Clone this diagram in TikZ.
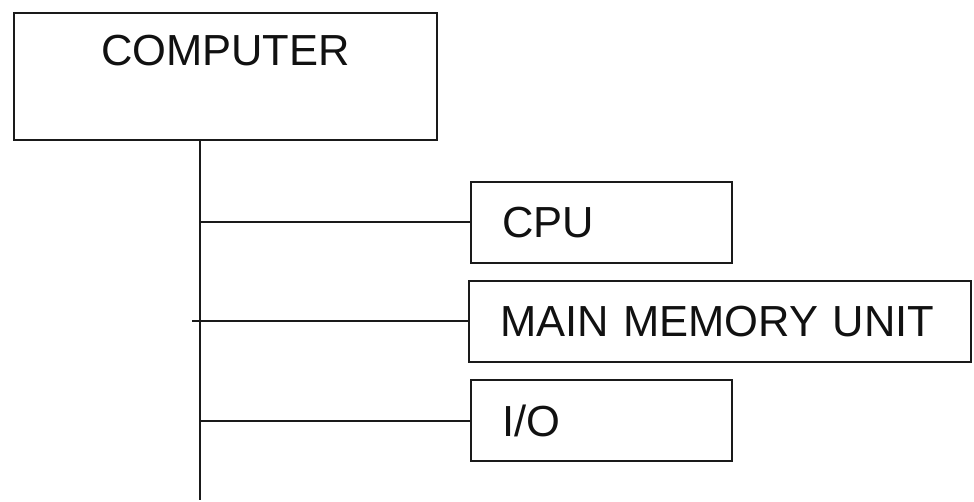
\documentclass[tikz,border=0pt]{standalone}
\usepackage{fontspec}
\setmainfont{Liberation Sans}
\usepackage{xcolor}
\usetikzlibrary{calc}
\definecolor{border}{HTML}{1A1A1A}
\definecolor{text}{HTML}{111111}

\begin{document}
\begin{tikzpicture}[x=1pt, y=-1pt,
    box/.style={draw=border, line width=2pt, rectangle, inner ysep=0pt,
      font=\fontsize{43.5}{48}\selectfont, text=text},
    part/.style={box, anchor=north west, minimum height=81pt, inner xsep=31pt,
      text width=#1, align=left},
    wire/.style={draw=border, line width=2pt}]
  \useasboundingbox (0,0) rectangle (974,502);
  \node[box, anchor=north west, minimum width=423pt, minimum height=127pt,
    label={[anchor=north, inner sep=0pt, yshift=-23pt, font=\fontsize{43.5}{48}\selectfont, text=text]north:COMPUTER}]
    (computer) at (13,12) {};
  \node[part=199pt] (cpu) at (470,181) {CPU};
  \node[part=440pt] (mmu) at (468,280) {MAIN MEMORY UNIT};
  \node[part=199pt] (io) at (470,379) {I/O};
  \coordinate (bottom) at (200,500);
  \draw[wire] (computer.south -| bottom) -- (bottom);
  \draw[wire] (cpu.west) -- (cpu.west -| bottom);
  \draw[wire, shorten >=-8pt] (mmu.west) -- (mmu.west -| bottom);
  \draw[wire] (io.west) -- (io.west -| bottom);
\end{tikzpicture}
\end{document}
